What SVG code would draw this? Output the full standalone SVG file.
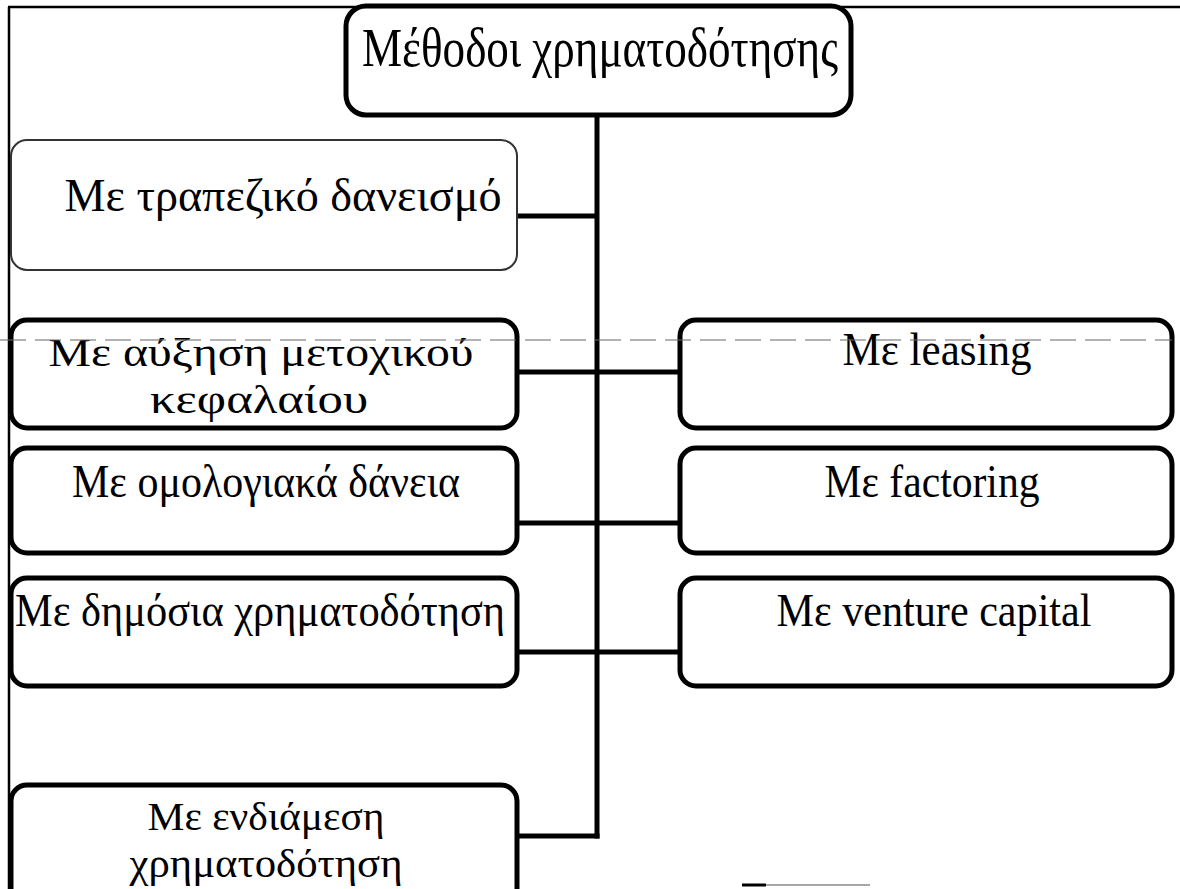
<svg xmlns="http://www.w3.org/2000/svg" width="1180" height="889" viewBox="0 0 1180 889">
  <style>
    .box { fill: #ffffff; stroke: #000000; stroke-width: 5; }
    .box-light { fill: #ffffff; stroke: #333333; stroke-width: 2; }
    .wire { fill: none; stroke: #000000; stroke-width: 5; }
    .frame { fill: none; stroke: #000000; stroke-width: 2.5; }
    .guide { fill: none; stroke: #666666; stroke-width: 1.2; stroke-dasharray: 26 9; }
    .label { font-family: "Liberation Serif", "Times New Roman", serif; font-size: 46px; fill: #000000; text-anchor: middle; }
    .title { font-size: 54px; }
    .two-line { font-size: 40px; }
  </style>

  <!-- page frame -->
  <g id="frame">
    <line class="frame" x1="8" y1="7" x2="1180" y2="7"/>
    <line class="frame" x1="9" y1="7" x2="9" y2="889"/>
    <line x1="742" y1="885" x2="766" y2="885" stroke="#000" stroke-width="3"/>
    <line x1="766" y1="885" x2="870" y2="885" stroke="#888" stroke-width="1.5"/>
  </g>

  <!-- connectors -->
  <g id="connectors">
    <line class="wire" x1="597" y1="115" x2="597" y2="838.5"/>
    <line class="wire" x1="517" y1="216" x2="597" y2="216"/>
    <line class="wire" x1="517" y1="372" x2="680" y2="372"/>
    <line class="wire" x1="517" y1="523" x2="680" y2="523"/>
    <line class="wire" x1="517" y1="652" x2="680" y2="652"/>
    <line class="wire" x1="517" y1="836" x2="599.5" y2="836"/>
  </g>

  <g id="root">
    <rect class="box" x="346" y="6" width="505" height="109" rx="20"/>
    <text class="label title" x="600" y="66" textLength="476" lengthAdjust="spacingAndGlyphs">Μέθοδοι χρηματοδότησης</text>
  </g>

  <g id="bank-loan">
    <rect class="box-light" x="11" y="140" width="506" height="130" rx="16"/>
    <text class="label" x="283" y="211" textLength="437" lengthAdjust="spacingAndGlyphs">Με τραπεζικό δανεισμό</text>
  </g>

  <g id="share-capital">
    <rect class="box" x="11" y="320" width="506" height="108" rx="16"/>
    <text class="label two-line" x="261" y="366" textLength="425" lengthAdjust="spacingAndGlyphs">Με αύξηση μετοχικού</text>
    <text class="label two-line" x="259" y="413" textLength="218" lengthAdjust="spacingAndGlyphs">κεφαλαίου</text>
  </g>

  <g id="bond-loans">
    <rect class="box" x="11" y="448" width="506" height="105" rx="16"/>
    <text class="label" x="266" y="497" textLength="388" lengthAdjust="spacingAndGlyphs">Με ομολογιακά δάνεια</text>
  </g>

  <g id="public-funding">
    <rect class="box" x="11" y="578" width="506" height="108" rx="16"/>
    <text class="label" x="260" y="626" textLength="490" lengthAdjust="spacingAndGlyphs">Με δημόσια χρηματοδότηση</text>
  </g>

  <g id="mezzanine">
    <rect class="box" x="11" y="785" width="506" height="120" rx="16"/>
    <text class="label two-line" x="266" y="830" textLength="237" lengthAdjust="spacingAndGlyphs">Με ενδιάμεση</text>
    <text class="label two-line" x="266" y="877" textLength="273" lengthAdjust="spacingAndGlyphs">χρηματοδότηση</text>
  </g>

  <g id="leasing">
    <rect class="box" x="680" y="320" width="492" height="108" rx="16"/>
    <text class="label" x="937" y="365" textLength="189" lengthAdjust="spacingAndGlyphs">Με leasing</text>
  </g>

  <g id="factoring">
    <rect class="box" x="680" y="448" width="492" height="105" rx="16"/>
    <text class="label" x="932" y="497" textLength="215" lengthAdjust="spacingAndGlyphs">Με factoring</text>
  </g>

  <g id="venture-capital">
    <rect class="box" x="680" y="578" width="492" height="108" rx="16"/>
    <text class="label" x="934" y="626" textLength="315" lengthAdjust="spacingAndGlyphs">Με venture capital</text>
  </g>

  <!-- faint dashed rule running across the sheet -->
  <g id="rule">
    <line class="guide" x1="0" y1="340" x2="1172" y2="340"/>
  </g>
</svg>
